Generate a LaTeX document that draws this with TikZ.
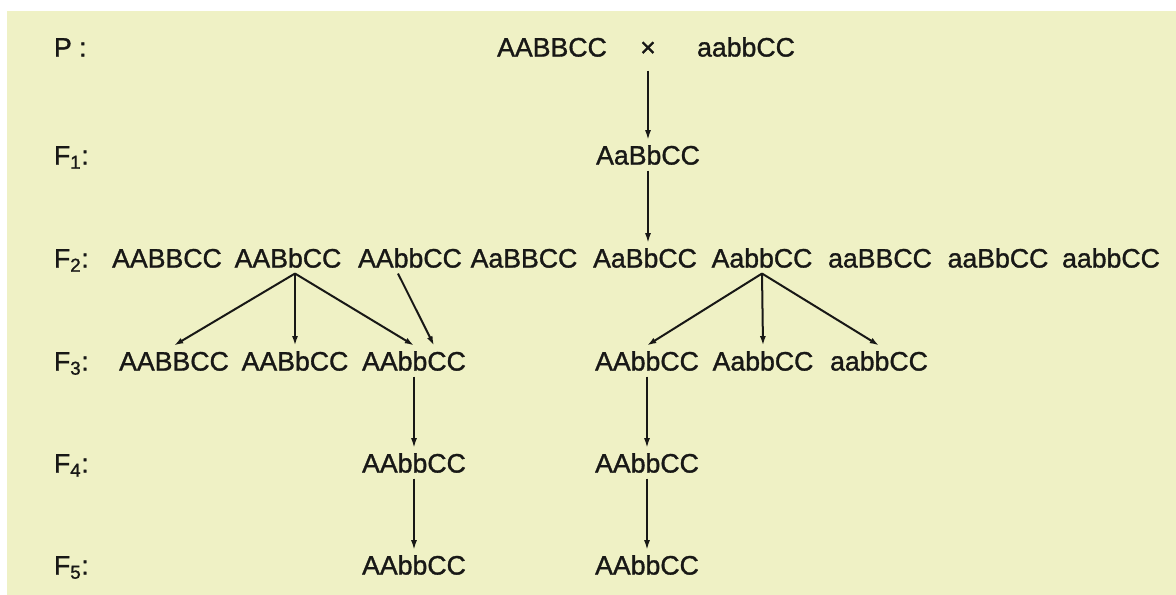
\documentclass[tikz,border=0pt]{standalone}
\usepackage{fontspec}
\setmainfont{Liberation Sans}
\newfontfamily\genofont[FakeBold=1.2]{Liberation Sans}
\usetikzlibrary{arrows.meta}
\definecolor{paper}{RGB}{239,241,197}
\definecolor{ink}{RGB}{24,24,22}
\begin{document}
\begin{tikzpicture}[y=0.75pt, x=0.75pt, yscale=-1, inner sep=0pt, outer sep=0pt,
  geno/.style={font=\genofont\fontsize{20}{24}\selectfont, text=ink, text height=14.3pt,
    text depth=0pt, inner ysep=4.5pt},
  gen/.style={geno, anchor=west},
  arr/.style={draw=ink, line width=1pt, -{Latex[length=7pt,width=4.5pt]}},
  fan/.style={arr, line width=1.5pt}]
\useasboundingbox (0,0) rectangle (1176,595);
\fill[white] (0,0) rectangle (1176,595);
\fill[paper] (7,11) rectangle (1176,595);
% generation labels
\node[gen] (lp) at (54,47) {P :};
\node[gen] (l1) at (54,155) {F\textsubscript{1}:};
\node[gen] (l2) at (54,258) {F\textsubscript{2}:};
\node[gen] (l3) at (54,361) {F\textsubscript{3}:};
\node[gen] (l4) at (54,463) {F\textsubscript{4}:};
\node[gen] (l5) at (54,565) {F\textsubscript{5}:};
% parents and F1
\node[geno] (pa) at (552,47) {AABBCC};
\node[geno] (cross) at (648,47) {×};
\node[geno] (pb) at (746,47) {aabbCC};
\node[geno] (f1) at (648,155) {AaBbCC};
% F2
\node[geno] (f2a) at (167,258) {AABBCC};
\node[geno] (f2b) at (288,258) {AABbCC};
\node[geno] (f2c) at (410,258) {AAbbCC};
\node[geno] (f2d) at (524,258) {AaBBCC};
\node[geno] (f2e) at (645,258) {AaBbCC};
\node[geno] (f2f) at (762,258) {AabbCC};
\node[geno] (f2g) at (880,258) {aaBBCC};
\node[geno] (f2h) at (998,258) {aaBbCC};
\node[geno] (f2i) at (1111,258) {aabbCC};
% F3
\node[geno] (f3a) at (174,361) {AABBCC};
\node[geno] (f3b) at (295,361) {AABbCC};
\node[geno] (f3c) at (414,361) {AAbbCC};
\node[geno] (f3d) at (647,361) {AAbbCC};
\node[geno] (f3e) at (763,361) {AabbCC};
\node[geno] (f3f) at (879,361) {aabbCC};
% F4 and F5
\node[geno] (f4a) at (414,463) {AAbbCC};
\node[geno] (f4b) at (647,463) {AAbbCC};
\node[geno] (f5a) at (414,565) {AAbbCC};
\node[geno] (f5b) at (647,565) {AAbbCC};
% arrows
\draw[arr, shorten <=6pt] (cross.south) -- (f1.north);
\draw[arr] (f1.south) -- (f1.south |- f2e.north);
\draw[fan] (f3b.north |- f2b.south) -- (f3a.north);
\draw[fan] (f3b.north |- f2b.south) -- (f3b.north);
\draw[fan] (f3b.north |- f2b.south) -- (f3c.north);
\draw[fan] ([xshift=-9pt]f2c.south) -- ([xshift=15pt]f3c.north);
\draw[fan] (f2f.south) -- (f3d.north);
\draw[fan] (f2f.south) -- (f3e.north);
\draw[fan] (f2f.south) -- (f3f.north);
\draw[arr] (f3c.south) -- (f4a.north);
\draw[arr] (f4a.south) -- (f5a.north);
\draw[arr] (f3d.south) -- (f4b.north);
\draw[arr] (f4b.south) -- (f5b.north);
\end{tikzpicture}
\end{document}
